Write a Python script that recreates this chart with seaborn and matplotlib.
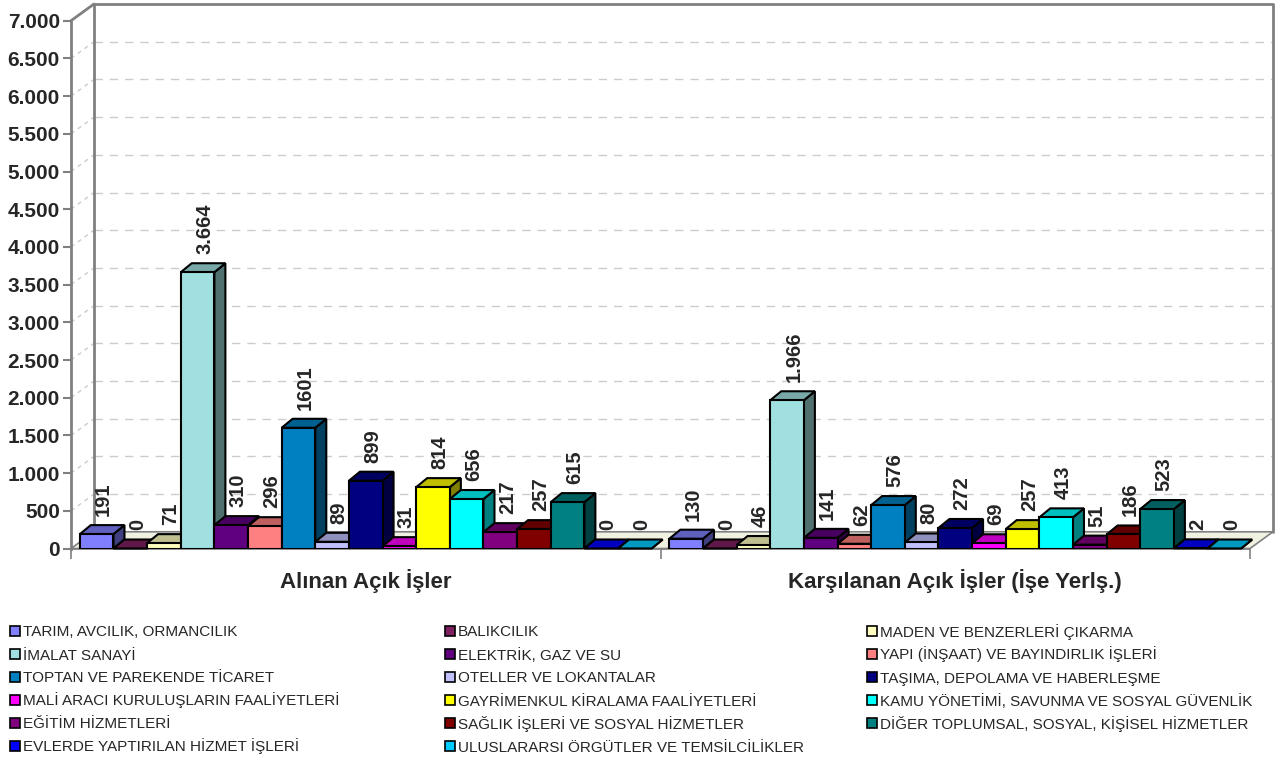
import numpy as np
import pandas as pd
import seaborn as sns
import matplotlib.pyplot as plt
from matplotlib.patches import Polygon, Rectangle
from matplotlib.colors import to_rgb

############################## Veri ######################################
gruplar = ["Alınan Açık İşler", "Karşılanan Açık İşler (İşe Yerlş.)"]
sektorler = [
    "TARIM, AVCILIK, ORMANCILIK", "BALIKCILIK", "MADEN VE BENZERLERİ ÇIKARMA",
    "İMALAT SANAYİ", "ELEKTRİK, GAZ VE SU", "YAPI (İNŞAAT) VE BAYINDIRLIK İŞLERİ",
    "TOPTAN VE PAREKENDE TİCARET", "OTELLER VE LOKANTALAR", "TAŞIMA, DEPOLAMA VE HABERLEŞME",
    "MALİ ARACI KURULUŞLARIN FAALİYETLERİ", "GAYRİMENKUL KİRALAMA FAALİYETLERİ",
    "KAMU YÖNETİMİ, SAVUNMA VE SOSYAL GÜVENLİK", "EĞİTİM HİZMETLERİ",
    "SAĞLIK İŞLERİ VE SOSYAL HİZMETLER", "DİĞER TOPLUMSAL, SOSYAL, KİŞİSEL HİZMETLER",
    "EVLERDE YAPTIRILAN HİZMET İŞLERİ", "ULUSLARARSI ÖRGÜTLER VE TEMSİLCİLİKLER",
]
alinan = [191, 0, 71, 3664, 310, 296, 1601, 89, 899, 31, 814, 656, 217, 257, 615, 0, 0]
karsilanan = [130, 0, 46, 1966, 141, 62, 576, 80, 272, 69, 257, 413, 51, 186, 523, 2, 0]
renkler = ["#8080FF", "#802060", "#FFFFC0", "#A0E0E0", "#600080", "#FF8080",
           "#0080C0", "#C0C0FF", "#000080", "#FF00FF", "#FFFF00", "#00FFFF",
           "#800080", "#800000", "#008080", "#0000FF", "#00CCFF"]
yticks = list(range(0, 7001, 500))
noktasiz = {1601}  # kaynakta binlik ayraci olmadan yazilmis

def etiket(v):
    return str(v) if v in noktasiz else f"{v:,}".replace(",", ".")

df = pd.DataFrame({
    "grup": [gruplar[0]] * len(sektorler) + [gruplar[1]] * len(sektorler),
    "sektor": sektorler * 2,
    "deger": alinan + karsilanan,
})

############################## Cizim ######################################
sns.set_theme(style="white")
plt.rcParams['font.family'] = ['Liberation Sans', 'DejaVu Sans']

W, H = 1280, 760
fig = plt.figure(figsize=(W / 100, H / 100), dpi=100)
ax = fig.add_axes([71/W, 211.5/H, 1179/W, 527.8/H])

sns.barplot(data=df, x="grup", y="deger", hue="sektor", order=gruplar,
            hue_order=sektorler, palette=renkler, width=0.97, saturation=1,
            errorbar=None, edgecolor="black", linewidth=1.5, legend=False, ax=ax)
bars = sorted(list(ax.patches), key=lambda p: p.get_x())

ax.set_xlim(-0.5, 1.5)
ax.set_ylim(0, 7000)
ax.set_xlabel("")
ax.set_ylabel("")

def delta(px, py):
    p0 = ax.transData.transform((0, 0))
    x, y = ax.transData.inverted().transform((p0[0] + px, p0[1] + py))
    return x, y

wx, wy = delta(23, 16.7)   # arka duvar derinligi
bx, by = delta(11, 9)      # cubuk derinligi
gri = "#808080"

# zemin
ax.add_patch(Polygon([(-0.5, 0), (1.5, 0), (1.5 + wx, wy), (-0.5 + wx, wy)],
                     closed=True, fc="#F1F1E2", ec=gri, lw=1.2, zorder=1, clip_on=False))
# arka duvar cercevesi
ax.plot([-0.5 + wx, -0.5 + wx, 1.5 + wx, 1.5 + wx], [wy, 7000 + wy, 7000 + wy, wy],
        color=gri, lw=2, zorder=0.8, clip_on=False)
ax.plot([-0.5, -0.5 + wx], [7000, 7000 + wy], color=gri, lw=2, clip_on=False, zorder=0.8)
for v in yticks[1:-1]:
    ax.plot([-0.5 + wx, 1.5 + wx], [v + wy, v + wy], color="#CCCCCC", lw=1,
            dashes=(6, 5), zorder=0.5, clip_on=False)
    ax.plot([-0.5, -0.5 + wx], [v, v + wy], color="#CCCCCC", lw=1,
            dashes=(3, 3), zorder=0.5, clip_on=False)

# 3B kutular
for k, p in enumerate(bars):
    x0, w, h = p.get_x(), p.get_width(), p.get_height()
    c = np.array(to_rgb(p.get_facecolor()))
    z = 3 + 3 * k
    side = [(x0 + w, 0), (x0 + w + bx, by), (x0 + w + bx, h + by), (x0 + w, h)]
    top = [(x0, h), (x0 + bx, h + by), (x0 + w + bx, h + by), (x0 + w, h)]
    ax.add_patch(Polygon(side, closed=True, fc=c * 0.5, ec="black", lw=1.5, zorder=z, clip_on=False))
    ax.add_patch(Polygon(top, closed=True, fc=c * 0.75, ec="black", lw=1.5, zorder=z + 1, clip_on=False))
    p.set_zorder(z + 2)
    ax.annotate(etiket(int(round(h))), (x0 + w / 2, h), xytext=(7, 18),
                textcoords="offset pixels", rotation=90, ha="center", va="bottom",
                fontsize=14.5, fontweight="bold", zorder=500, annotation_clip=False)

# eksenler
for s in ["top", "right"]:
    ax.spines[s].set_visible(False)
ax.spines["left"].set_color(gri)
ax.spines["left"].set_linewidth(2)
ax.spines["bottom"].set_color(gri)
ax.spines["bottom"].set_linewidth(1.2)
ax.spines["bottom"].set_zorder(2)
ax.set_yticks(yticks, labels=[f"{v:,}".replace(",", ".") for v in yticks],
              fontsize=15, fontweight="bold")
ax.tick_params(axis="y", length=6, width=1.5, color=gri, pad=2, left=True)
ax.set_xticks([0, 1], labels=gruplar, fontsize=16, fontweight="bold")
ax.set_xticks([-0.5, 0.5, 1.5], minor=True)
ax.tick_params(axis="x", which="major", length=0, pad=15)
ax.tick_params(axis="x", which="minor", length=7, width=1.2, color=gri, bottom=True)
ax.grid(False)

############################## Lejant ######################################
kolon_x = [10, 445, 867]
satir_y = [631, 654, 677, 700, 723, 746]
for i, (ad, c) in enumerate(zip(sektorler, renkler)):
    xp, yp = kolon_x[i % 3], satir_y[i // 3]
    fig.add_artist(Rectangle((xp / W, 1 - (yp + 5) / H), 10 / W, 10 / H, fc=c, ec="black",
                             lw=1.2, transform=fig.transFigure))
    fig.text((xp + 13) / W, 1 - (yp + 5.5) / H, ad, fontsize=11, va="baseline", ha="left")

plt.savefig("out.png", dpi=100)
